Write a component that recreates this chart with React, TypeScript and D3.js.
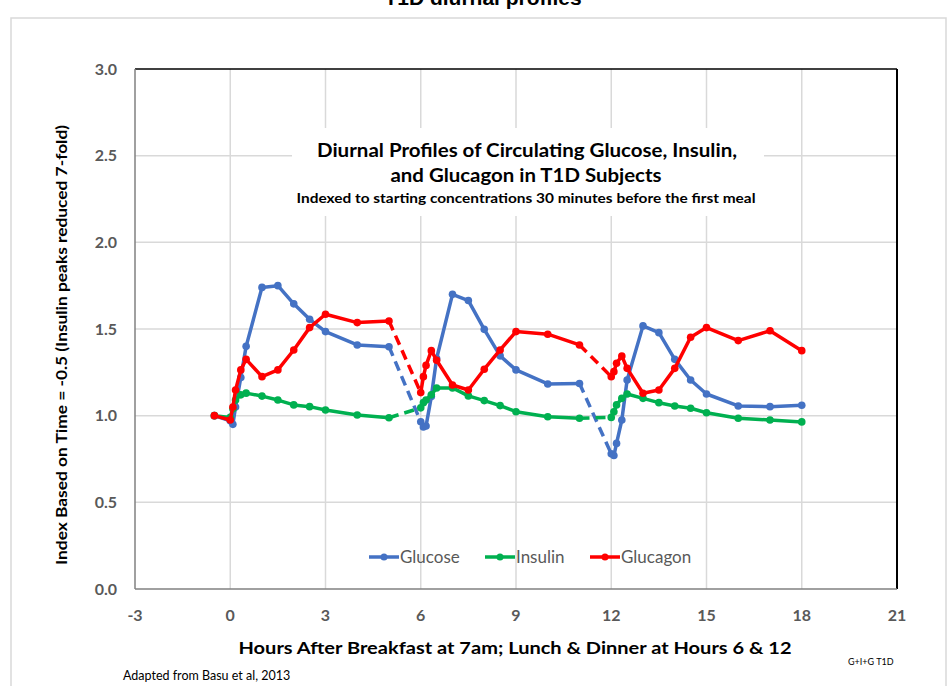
import React from "react";
import * as d3 from "d3";

// ---- data ----
const seriesNames = ["Glucose", "Insulin", "Glucagon"];
const seriesColors = ["#4472C4", "#00B050", "#FF0000"];

const timesBreakfast = [-0.5, 0, 0.083, 0.167, 0.333, 0.5, 1, 1.5, 2, 2.5, 3, 4, 5];
const timesLunch = [6, 6.083, 6.167, 6.333, 6.5, 7, 7.5, 8, 8.5, 9, 10, 11];
const timesDinner = [12, 12.083, 12.167, 12.333, 12.5, 13, 13.5, 14, 14.5, 15, 16, 17, 18];

const glucoseBreakfast = [1.0, 0.97, 0.95, 1.05, 1.22, 1.4, 1.74, 1.75, 1.645, 1.556, 1.485, 1.408, 1.398];
const glucoseLunch = [0.965, 0.935, 0.94, 1.11, 1.33, 1.7, 1.664, 1.498, 1.345, 1.264, 1.183, 1.186];
const glucoseDinner = [0.78, 0.77, 0.84, 0.975, 1.206, 1.518, 1.479, 1.325, 1.206, 1.125, 1.056, 1.052, 1.06];

const insulinBreakfast = [1.0, 0.99, 1.04, 1.09, 1.12, 1.13, 1.113, 1.09, 1.062, 1.052, 1.033, 1.004, 0.988];
const insulinLunch = [1.045, 1.075, 1.09, 1.12, 1.16, 1.16, 1.114, 1.087, 1.058, 1.023, 0.994, 0.985];
const insulinDinner = [0.99, 1.023, 1.062, 1.1, 1.125, 1.1, 1.075, 1.056, 1.043, 1.017, 0.985, 0.975, 0.964];

const glucagonBreakfast = [1.0, 0.975, 1.05, 1.148, 1.264, 1.325, 1.225, 1.264, 1.379, 1.508, 1.585, 1.537, 1.546];
const glucagonLunch = [1.133, 1.225, 1.29, 1.375, 1.32, 1.177, 1.148, 1.268, 1.379, 1.485, 1.47, 1.408];
const glucagonDinner = [1.225, 1.254, 1.302, 1.344, 1.273, 1.129, 1.148, 1.273, 1.452, 1.508, 1.433, 1.49, 1.375];

const xTicks = [-3, 0, 3, 6, 9, 12, 15, 18, 21];
const yTicks = [0, 0.5, 1.0, 1.5, 2.0, 2.5, 3.0];

const chartTitle = "T1D diurnal profiles";
const boxLine1 = "Diurnal Profiles of Circulating Glucose, Insulin,";
const boxLine2 = "and Glucagon in T1D Subjects";
const boxLine3 = "Indexed to starting concentrations  30 minutes before the first meal";
const xTitle = "Hours After Breakfast at 7am; Lunch & Dinner at Hours 6 & 12";
const yTitle = "Index Based on Time = -0.5 (Insulin peaks reduced 7-fold)";
const sourceNote = "Adapted from Basu et al, 2013";
const tagNote = "G+I+G T1D";

type Pt = [number, number];
const zip = (t: number[], v: number[]): Pt[] => t.map((x, i) => [x, v[i]]);

const seriesSegments: Pt[][][] = [
  [zip(timesBreakfast, glucoseBreakfast), zip(timesLunch, glucoseLunch), zip(timesDinner, glucoseDinner)],
  [zip(timesBreakfast, insulinBreakfast), zip(timesLunch, insulinLunch), zip(timesDinner, insulinDinner)],
  [zip(timesBreakfast, glucagonBreakfast), zip(timesLunch, glucagonLunch), zip(timesDinner, glucagonDinner)],
];

export default function App() {
  const W = 949, H = 686;
  const left = 135, right = 897, top = 69, bottom = 589;
  const x = d3.scaleLinear().domain([-3, 21]).range([left, right]);
  const y = d3.scaleLinear().domain([0, 3]).range([bottom, top]);
  const line = d3.line<Pt>().x(d => x(d[0])).y(d => y(d[1]));
  const font = "Lato, 'Open Sans', sans-serif";
  const tickColor = "#595959";

  return (
    <svg width={W} height={H} style={{ position: "absolute", left: 0, top: 0, background: "#fff" }}>
      <rect x={0} y={0} width={W} height={H} fill="#fff" />
      {/* chart border */}
      <rect x={11} y={18} width={935} height={700} fill="none" stroke="#d9d9d9" strokeWidth={1.5} />
      <text x={483} y={5} textAnchor="middle" fontFamily="Arial, 'Liberation Sans', sans-serif" fontWeight="bold" fontSize={21} fill="#000">
        {chartTitle}
      </text>

      {/* gridlines */}
      {yTicks.filter(t => t > 0 && t < 3).map(t => (
        <line key={"gy" + t} x1={left} x2={right} y1={y(t)} y2={y(t)} stroke="#d9d9d9" strokeWidth={1.5} />
      ))}
      {xTicks.filter(t => t > -3 && t < 21).map(t => (
        <line key={"gx" + t} x1={x(t)} x2={x(t)} y1={top} y2={bottom} stroke="#d9d9d9" strokeWidth={1.5} />
      ))}

      {/* annotation box (white background hides gridlines) */}
      <rect x={292} y={128} width={472} height={88} fill="#fff" />
      <text x={527} y={157} textAnchor="middle" fontFamily={font} fontWeight="bold" fontSize={18.5} fill="#000" textLength={420} lengthAdjust="spacingAndGlyphs">{boxLine1}</text>
      <text x={526} y={182} textAnchor="middle" fontFamily={font} fontWeight="bold" fontSize={18.5} fill="#000" textLength={271} lengthAdjust="spacingAndGlyphs">{boxLine2}</text>
      <text x={526} y={203} textAnchor="middle" fontFamily={font} fontWeight="bold" fontSize={13} fill="#000" textLength={459} lengthAdjust="spacingAndGlyphs">{boxLine3}</text>

      {/* plot frame */}
      <line x1={left} x2={right} y1={top} y2={top} stroke="#000" strokeWidth={1.5} />
      <line x1={right} x2={right} y1={top} y2={bottom} stroke="#000" strokeWidth={2} />
      <line x1={left} x2={left} y1={top} y2={bottom} stroke="#808080" strokeWidth={1.5} />
      <line x1={left} x2={right} y1={bottom} y2={bottom} stroke="#808080" strokeWidth={1.5} />

      {/* tick labels */}
      {yTicks.map(t => (
        <text key={"ty" + t} x={117} y={y(t) + 5.5} textAnchor="end" fontFamily={font} fontWeight="bold" fontSize={16} fill={tickColor}>
          {t.toFixed(1)}
        </text>
      ))}
      {xTicks.map(t => (
        <text key={"tx" + t} x={x(t)} y={621} textAnchor="middle" fontFamily={font} fontWeight="bold" fontSize={16} fill={tickColor}>
          {t}
        </text>
      ))}

      {/* axis titles */}
      <text x={515} y={654} textAnchor="middle" fontFamily={font} fontWeight="bold" fontSize={17.5} fill="#000" textLength={553} lengthAdjust="spacingAndGlyphs">{xTitle}</text>
      <text transform={`translate(67,345) rotate(-90)`} textAnchor="middle" fontFamily={font} fontWeight="bold" fontSize={16} fill="#000" textLength={440} lengthAdjust="spacingAndGlyphs">{yTitle}</text>

      {/* series */}
      {seriesSegments.map((segs, si) => {
        const c = seriesColors[si];
        const gaps: Pt[][] = [];
        for (let k = 0; k < segs.length - 1; k++) {
          gaps.push([segs[k][segs[k].length - 1], segs[k + 1][0]]);
        }
        return (
          <g key={"s" + si}>
            {gaps.map((g, gi) => (
              <path key={"gap" + gi} d={line(g) || ""} fill="none" stroke={c} strokeWidth={3.5} strokeDasharray="10,6" />
            ))}
            {segs.map((seg, k) => (
              <g key={"seg" + k}>
                <path d={line(seg) || ""} fill="none" stroke={c} strokeWidth={3.5} strokeLinejoin="round" />
                {seg.map((p, i) => (
                  <circle key={i} cx={x(p[0])} cy={y(p[1])} r={3.8} fill={c} />
                ))}
              </g>
            ))}
          </g>
        );
      })}

      {/* legend */}
      {seriesNames.map((n, i) => {
        const lx = [369, 485, 590][i];
        return (
          <g key={"lg" + i}>
            <line x1={lx} x2={lx + 30} y1={557} y2={557} stroke={seriesColors[i]} strokeWidth={3.5} />
            <circle cx={lx + 15} cy={557} r={3.5} fill={seriesColors[i]} />
            <text x={lx + 31} y={563} fontFamily={font} fontSize={17} fill={tickColor}>{n}</text>
          </g>
        );
      })}

      <text x={123} y={680} fontFamily={font} fontSize={12.5} fill="#000">{sourceNote}</text>
      <text x={848} y={665} fontFamily={font} fontSize={9} fill="#000">{tagNote}</text>
    </svg>
  );
}
